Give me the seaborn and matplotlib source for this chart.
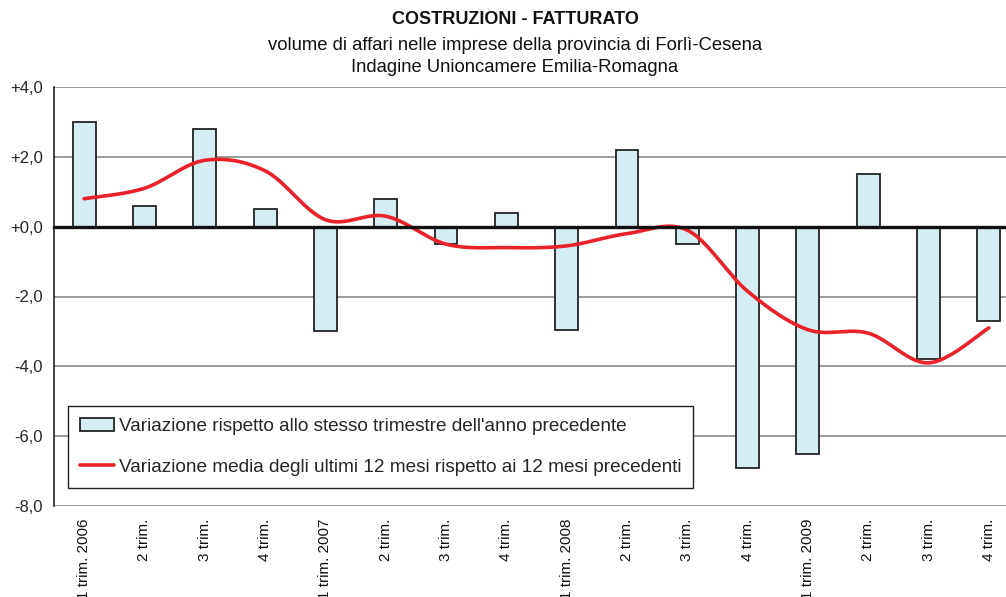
import numpy as np
import pandas as pd
import matplotlib
matplotlib.use("Agg")
import matplotlib.pyplot as plt
import seaborn as sns
from matplotlib.patches import Patch
from matplotlib.lines import Line2D

categories = ["1 trim. 2006", "2 trim.", "3 trim.", "4 trim.",
              "1 trim. 2007", "2 trim.", "3 trim.", "4 trim.",
              "1 trim. 2008", "2 trim.", "3 trim.", "4 trim.",
              "1 trim. 2009", "2 trim.", "3 trim.", "4 trim."]
bar_values = [3.0, 0.6, 2.8, 0.5, -3.0, 0.8, -0.5, 0.4,
              -2.95, 2.2, -0.5, -6.9, -6.5, 1.5, -3.8, -2.7]
line_values = [0.8, 1.1, 1.9, 1.6, 0.2, 0.3, -0.5, -0.6,
               -0.55, -0.2, -0.1, -1.85, -2.95, -3.05, -3.9, -2.9]
y_ticks = [4, 2, 0, -2, -4, -6, -8]
y_labels = ["+4,0", "+2,0", "+0,0", "-2,0", "-4,0", "-6,0", "-8,0"]

label_bar = "Variazione rispetto allo stesso trimestre dell'anno precedente"
label_line = "Variazione media degli ultimi 12 mesi rispetto ai 12 mesi precedenti"

sns.set_style("white")
plt.rcParams['font.family'] = ['Liberation Sans', 'DejaVu Sans']

fig = plt.figure(figsize=(10.06, 5.97), dpi=100)
ax = fig.add_axes([54 / 1006, 1 - 506 / 597, 965 / 1006, 419 / 597])

df = pd.DataFrame({"cat": categories, "val": bar_values})
df["cat"] = pd.Categorical([f"{i}" for i in range(len(categories))],
                           categories=[f"{i}" for i in range(len(categories))])
sns.barplot(data=df, x="cat", y="val", color="#d6ecf3", edgecolor="#222222",
            linewidth=1.3, width=0.38, saturation=1, ax=ax, zorder=3)


def catmull(xs, ys, n=30):
    P = np.column_stack([xs, ys]).astype(float)
    out = []
    for i in range(len(P) - 1):
        p0 = P[i - 1] if i > 0 else P[i]
        p1 = P[i]
        p2 = P[i + 1]
        p3 = P[i + 2] if i + 2 < len(P) else P[i + 1]
        t = np.linspace(0, 1, n, endpoint=(i == len(P) - 2))[:, None]
        pts = 0.5 * ((2 * p1) + (-p0 + p2) * t + (2 * p0 - 5 * p1 + 4 * p2 - p3) * t ** 2
                     + (-p0 + 3 * p1 - 3 * p2 + p3) * t ** 3)
        out.append(pts)
    return np.vstack(out)


sm = catmull(np.arange(len(line_values)), line_values)
sdf = pd.DataFrame({"x": sm[:, 0], "y": sm[:, 1]})
sns.lineplot(data=sdf, x="x", y="y", sort=False, color="#e8212b", linewidth=2.6,
             ax=ax, zorder=4)

ax.set_xlim(-0.5, len(categories) - 0.5)
ax.set_ylim(-8, 4)
ax.set_yticks(y_ticks)
ax.set_yticklabels(y_labels, fontsize=12)
for yv in y_ticks:
    if yv != 0:
        ax.axhline(yv, color="#8a8a8a", linewidth=1.2, zorder=1)

ax.spines["top"].set_visible(False)
ax.spines["right"].set_visible(False)
ax.spines["left"].set_color("#222222")
ax.spines["left"].set_linewidth(1.2)
ax.spines["bottom"].set_position(("data", 0))
ax.spines["bottom"].set_color("#111111")
ax.spines["bottom"].set_linewidth(2.4)
ax.spines["bottom"].set_zorder(5)
ax.tick_params(axis="y", direction="out", length=5, width=1.2, color="#222222", pad=3)
ax.set_xticks(np.arange(len(categories)))
ax.set_xticklabels([""] * len(categories))
ax.tick_params(axis="x", which="major", length=0)
ax.set_xticks(np.arange(len(categories) + 1) - 0.5, minor=True)
ax.tick_params(axis="x", which="minor", direction="out", length=5, width=2.2, color="#111111")
ax.set_xlabel("")
ax.set_ylabel("")

trans = matplotlib.transforms.blended_transform_factory(ax.transData, ax.transAxes)
for i, lab in enumerate(categories):
    ax.text(i, -0.031, lab, transform=trans, rotation=90, ha="center", va="top",
            fontsize=11, color="#111111")

handles = [Patch(facecolor="#d6ecf3", edgecolor="#222222", linewidth=1.3),
           Line2D([0], [0], color="#e8212b", linewidth=2.6)]
leg = ax.legend(handles, [label_bar, label_line], loc="lower left",
                bbox_to_anchor=(14 / 965, 18 / 419), fontsize=13.7, frameon=True,
                fancybox=False, edgecolor="#222222", framealpha=1,
                handlelength=1.75, handleheight=0.7, handletextpad=0.26,
                labelspacing=1.2, borderpad=0.65, borderaxespad=0)
leg.get_frame().set_linewidth(1.0)
leg.set_zorder(6)

fig.text(515 / 1006, 1 - 20 / 597, "COSTRUZIONI - FATTURATO", ha="center", va="center",
         fontsize=13, fontweight="bold", color="#111111")
fig.text(515 / 1006, 1 - 45 / 597, "volume di affari nelle imprese della provincia di Forlì-Cesena",
         ha="center", va="center", fontsize=13.3, color="#111111")
fig.text(515 / 1006, 1 - 67 / 597, "Indagine Unioncamere Emilia-Romagna",
         ha="center", va="center", fontsize=13.3, color="#111111")

fig.savefig("out.png", dpi=100)
